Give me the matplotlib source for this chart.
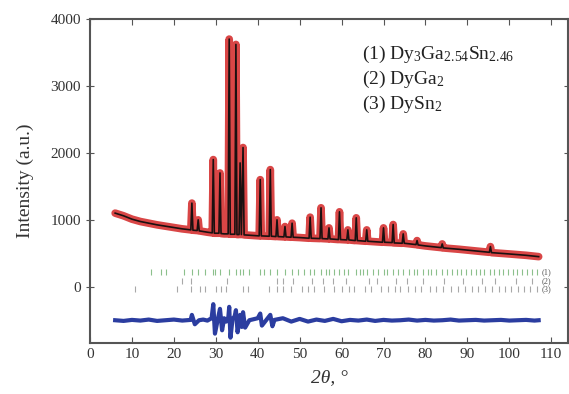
import matplotlib
matplotlib.use("Agg")
import matplotlib.pyplot as plt

plt.rcParams["font.family"] = ["Liberation Serif", "DejaVu Serif"]
plt.rcParams["mathtext.fontset"] = "custom"
plt.rcParams["mathtext.rm"] = "Liberation Serif"
plt.rcParams["mathtext.it"] = "Liberation Serif:italic"

two_theta = [6, 8, 10, 12, 14, 16, 18, 20, 22, 24.05, 24.3, 24.55, 25.55, 25.8, 26.05,
             28, 29.15, 29.4, 29.65, 30.75, 31.0, 31.25, 32.0, 32.95, 33.2, 33.45, 34.0,
             34.55, 34.8, 35.05, 35.55, 35.8, 36.1, 36.5, 36.75, 38, 40.35, 40.6, 40.85,
             42.75, 43.0, 43.25, 44.35, 44.6, 44.85, 46.25, 46.5, 46.75, 47.95, 48.2, 48.45,
             50, 52.25, 52.5, 52.75, 54.85, 55.1, 55.35, 56.75, 57.0, 57.25, 59.25, 59.5,
             59.75, 61.25, 61.5, 61.75, 63.25, 63.5, 63.75, 65.75, 66.0, 66.25, 69.75, 70.0,
             70.25, 72.05, 72.3, 72.55, 74.45, 74.7, 74.95, 77.75, 78.0, 78.25, 80, 83.75,
             84.0, 84.25, 88, 92, 95.25, 95.5, 95.75, 100, 104, 107]
intensity = [1100, 1060, 1010, 975, 950, 925, 905, 885, 865, 850, 1250, 845, 840, 1000, 835,
             815, 805, 1900, 800, 800, 1700, 795, 790, 790, 3700, 785, 785,
             785, 3620, 780, 780, 1850, 780, 2080, 775, 770, 760, 1600, 760,
             755, 1750, 755, 750, 1000, 750, 745, 900, 745, 740, 950, 740,
             735, 725, 1040, 725, 720, 1180, 720, 715, 880, 715, 705, 1120,
             705, 700, 850, 700, 690, 1030, 690, 680, 850, 680, 665, 880,
             665, 660, 930, 655, 650, 790, 650, 630, 690, 625, 610, 585,
             640, 580, 560, 535, 515, 600, 510, 490, 470, 450]

# difference curve (obs - calc, shifted)
diff_x = [6, 8, 10, 12, 14, 16, 18, 20, 22, 24, 24.3, 25, 26, 27, 28, 29, 29.4, 29.8,
          30.5, 31, 31.5, 32, 32.5, 33, 33.2, 33.5, 34, 34.5, 34.8, 35.2, 35.8, 36.2,
          36.5, 37, 38, 40, 40.6, 41, 42, 43, 43.5, 44, 46, 48, 50, 52, 54, 56, 58,
          60, 62, 64, 66, 68, 70, 72, 74, 76, 78, 80, 82, 84, 86, 88, 90, 92, 94, 96,
          98, 100, 102, 104, 106, 107]
diff_y = [-500, -510, -495, -505, -490, -510, -500, -490, -505, -495, -420, -560, -500,
          -490, -505, -470, -260, -700, -480, -330, -650, -470, -520, -450, -300, -760,
          -480, -440, -350, -680, -420, -600, -380, -610, -500, -470, -400, -580, -500,
          -420, -590, -495, -470, -520, -480, -520, -490, -510, -480, -515, -495, -505,
          -490, -510, -495, -505, -500, -490, -505, -495, -505, -500, -490, -505, -500,
          -495, -505, -500, -495, -505, -500, -495, -505, -500]

# Bragg reflection positions for the three phases
bragg_1 = [14.5, 17.0, 18.2, 22.3, 24.3, 25.8, 27.5, 29.4, 29.9, 31.0, 33.2, 34.8,
           35.8, 36.5, 38.0, 40.6, 41.5, 43.0, 44.6, 46.5, 48.2, 49.5, 51.0, 52.5,
           53.4, 55.1, 56.2, 57.0, 58.3, 59.5, 60.6, 61.5, 63.5, 64.4, 65.2, 66.0,
           67.5, 68.6, 70.0, 70.8, 72.3, 73.5, 74.7, 76.0, 77.2, 78.0, 79.3, 80.5,
           81.4, 82.6, 84.0, 85.2, 86.3, 87.5, 88.4, 89.6, 90.8, 92.0, 93.1, 94.0,
           95.5, 96.4, 97.6, 98.5, 99.7, 100.8, 101.9, 103.0, 104.2, 105.3, 106.5]
bragg_2 = [22.0, 24.0, 32.7, 44.6, 46.0, 48.5, 53.0, 55.5, 58.0, 61.0, 66.5, 68.5,
           73.0, 75.5, 79.5, 84.5, 89.0, 93.5, 96.5, 101.5, 105.5]
bragg_3 = [10.8, 20.8, 24.0, 26.3, 27.5, 30.0, 31.3, 32.5, 36.5, 37.8, 42.8, 44.5,
           46.0, 48.0, 50.5, 52.0, 53.5, 55.8, 58.2, 60.0, 61.8, 63.0, 65.5, 67.0,
           69.5, 71.0, 72.8, 74.0, 75.8, 77.5, 79.0, 81.0, 82.5, 84.2, 86.0, 87.8,
           89.5, 91.0, 92.6, 94.2, 95.8, 97.5, 99.0, 100.5, 102.0, 103.5, 105.0, 106.5]
bragg_rows = [220, 90, -40]
phase_labels = ["(1) Dy$_3$Ga$_{2.54}$Sn$_{2.46}$", "(2) DyGa$_2$", "(3) DySn$_2$"]

W, H = 569, 394
fig = plt.figure(figsize=(W / 100, H / 100), dpi=100)
ax = fig.add_axes([90 / W, 1 - 343 / H, 478 / W, 324 / H])

ax.plot(two_theta, intensity, color="#d01818", lw=5.5, alpha=0.8, solid_capstyle="round")
ax.plot(two_theta, intensity, color="#1a1010", lw=1.2)
ax.plot(diff_x, diff_y, color="#2b3da0", lw=3)

colors = ["#8cc08c", "#a8a8a8", "#a8a8a8"]
for pos, row, c in zip([bragg_1, bragg_2, bragg_3], bragg_rows, colors):
    ax.vlines(pos, row - 45, row + 45, color=c, lw=0.8)
for i, row in enumerate(bragg_rows):
    ax.text(107.8, row, f"({i + 1})", fontsize=6, va="center", color="#555555")

ax.set_xlim(0, 114)
ax.set_ylim(-840, 4000)
ax.set_xticks(range(0, 111, 10))
ax.set_yticks([0, 1000, 2000, 3000, 4000])
ax.tick_params(axis="x", direction="in", top=True, length=4, labelsize=11,
               labelcolor="#333333", color="#555555")
ax.tick_params(axis="y", direction="inout", right=True, length=6, labelsize=11,
               labelcolor="#333333", color="#555555")
for s in ax.spines.values():
    s.set_color("#555555")
    s.set_linewidth(1.5)

ax.set_ylabel("Intensity (a.u.)", fontsize=14, color="#333333", labelpad=12)
ax.set_xlabel("2θ, °", fontsize=14, style="italic", color="#333333", labelpad=6)

for i, lab in enumerate(phase_labels):
    fig.text(362 / W, 1 - (54 + 25 * i) / H, lab, fontsize=14, va="center",
             color="#222222")

fig.savefig("out.png", dpi=100)
